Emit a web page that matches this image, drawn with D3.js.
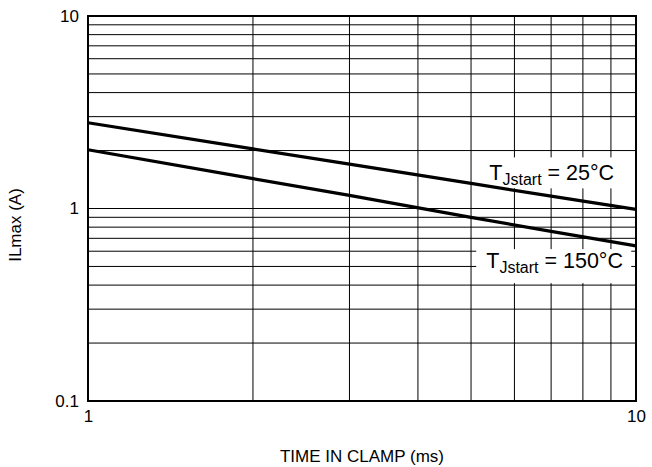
<!DOCTYPE html>
<html>
<head>
<meta charset="utf-8">
<script src="https://cdnjs.cloudflare.com/ajax/libs/d3/7.8.5/d3.min.js"></script>
<style>
  html, body { margin: 0; padding: 0; background: #fff; }
  svg { display: block; }
  text { font-family: "Liberation Sans", Arial, Helvetica, sans-serif; fill: #000; }
</style>
</head>
<body>
<svg id="chart" width="652" height="467"></svg>
<script>
// ---- data ----
const timeMs = [1, 2, 3, 5, 7, 10];
const ilmax25 = [2.79, 2.04, 1.70, 1.35, 1.16, 0.99];
const ilmax150 = [2.02, 1.43, 1.17, 0.90, 0.76, 0.64];
const xTickLabels = ["1", "10"];
const yTickLabels = ["0.1", "1", "10"];
const xGridValues = [1, 2, 3, 4, 5, 6, 7, 8, 9, 10];
const yGridValues = [0.1, 0.2, 0.3, 0.4, 0.5, 0.6, 0.7, 0.8, 0.9, 1, 2, 3, 4, 5, 6, 7, 8, 9, 10];
const seriesNames = ["25°C", "150°C"];
// label anchor points (data units: time, current)
const labelAnchors = [[5.4, 1.40], [5.33, 0.49]];

// ---- layout ----
const svg = d3.select("#chart");
const mLeft = 88, mRight = 636, mTop = 16, mBottom = 401;

const x = d3.scaleLog().domain([1, 10]).range([mLeft, mRight]);
const y = d3.scaleLog().domain([0.1, 10]).range([mBottom, mTop]);

// grid
const grid = svg.append("g");
grid.selectAll("line.v").data(xGridValues).enter().append("line")
  .attr("x1", d => x(d)).attr("x2", d => x(d))
  .attr("y1", mTop).attr("y2", mBottom)
  .attr("stroke", "#000").attr("stroke-width", 1);
grid.selectAll("line.h").data(yGridValues).enter().append("line")
  .attr("x1", mLeft).attr("x2", mRight)
  .attr("y1", d => y(d)).attr("y2", d => y(d))
  .attr("stroke", "#000").attr("stroke-width", 1);

// white label boxes (hide grid behind labels)
const boxes = [{dx: -10, dy: -23, w: 150, h: 31}, {dx: -10, dy: -19, w: 155, h: 34}];
labelAnchors.forEach((a, i) => {
  svg.append("rect")
    .attr("x", x(a[0]) + boxes[i].dx).attr("y", y(a[1]) + boxes[i].dy)
    .attr("width", boxes[i].w).attr("height", boxes[i].h)
    .attr("fill", "#fff");
});

// curves
const line = d3.line().x(d => x(d[0])).y(d => y(d[1]));
[ilmax25, ilmax150].forEach(vals => {
  svg.append("path")
    .datum(timeMs.map((t, i) => [t, vals[i]]))
    .attr("d", line)
    .attr("fill", "none")
    .attr("stroke", "#000")
    .attr("stroke-width", 3.2);
});

// label texts
labelAnchors.forEach((a, i) => {
  const t = svg.append("text")
    .attr("x", x(a[0])).attr("y", y(a[1]))
    .attr("font-size", 21.5);
  t.append("tspan").text("T");
  t.append("tspan").attr("font-size", 16).attr("dy", 5).text("Jstart");
  t.append("tspan").attr("dy", -5).text(" = " + seriesNames[i]);
});

// border
svg.append("rect").attr("x", mLeft).attr("y", mTop)
  .attr("width", mRight - mLeft).attr("height", mBottom - mTop)
  .attr("fill", "none").attr("stroke", "#000").attr("stroke-width", 2);

// axes tick labels
const xAxis = d3.axisBottom(x).tickValues([1, 10]).tickFormat((d, i) => xTickLabels[i]).tickSize(0).tickPadding(9);
const gx = svg.append("g").attr("transform", `translate(0,${mBottom})`).call(xAxis);
gx.select(".domain").remove();
gx.selectAll("text").attr("font-size", 17).attr("font-family", "Liberation Sans, Arial, sans-serif");

const yAxis = d3.axisLeft(y).tickValues([0.1, 1, 10]).tickFormat((d, i) => yTickLabels[i]).tickSize(0).tickPadding(9);
const gy = svg.append("g").attr("transform", `translate(${mLeft},0)`).call(yAxis);
gy.select(".domain").remove();
gy.selectAll("text").attr("font-size", 17).attr("font-family", "Liberation Sans, Arial, sans-serif");

// axis titles
svg.append("text").attr("x", (mLeft + mRight) / 2).attr("y", 462)
  .attr("text-anchor", "middle").attr("font-size", 17).text("TIME IN CLAMP (ms)");
svg.append("text").attr("transform", `translate(21,225) rotate(-90)`)
  .attr("text-anchor", "middle").attr("font-size", 17).text("ILmax (A)");
</script>
</body>
</html>
